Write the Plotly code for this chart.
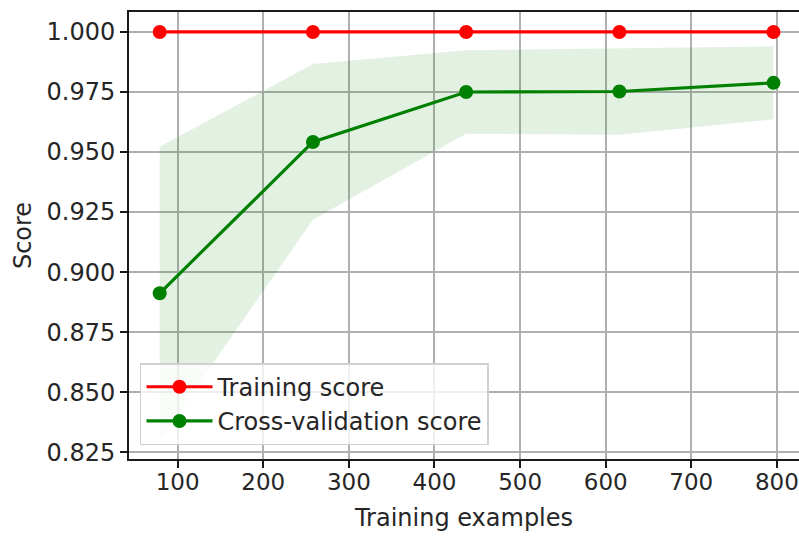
import plotly.graph_objects as go

# Learning-curve data
train_sizes = [79, 258, 437, 616, 796]
train_scores_mean = [1.0, 1.0, 1.0, 1.0, 1.0]
cv_scores_mean = [0.8912, 0.9542, 0.9750, 0.9752, 0.9788]
cv_scores_upper = [0.9522, 0.9866, 0.9924, 0.9932, 0.9940]
cv_scores_lower = [0.8302, 0.9218, 0.9576, 0.9572, 0.9636]

x_ticks = [100, 200, 300, 400, 500, 600, 700, 800]
y_ticks = [0.825, 0.850, 0.875, 0.900, 0.925, 0.950, 0.975, 1.000]

RED = "#ff0000"
GREEN = "#008000"
BAND = "rgba(0,128,0,0.11)"
FONT = "DejaVu Sans"
TXT = "#262626"

fig = go.Figure()

# Shaded +/- one std band around the cross-validation score
fig.add_trace(go.Scatter(x=train_sizes, y=cv_scores_upper, mode="lines",
                         line=dict(width=0, color=BAND), showlegend=False,
                         hoverinfo="skip"))
fig.add_trace(go.Scatter(x=train_sizes, y=cv_scores_lower, mode="lines",
                         line=dict(width=0, color=BAND), fill="tonexty",
                         fillcolor=BAND, showlegend=False, hoverinfo="skip"))

fig.add_trace(go.Scatter(x=train_sizes, y=train_scores_mean, mode="lines+markers",
                         name="Training score",
                         line=dict(color=RED, width=3.2),
                         marker=dict(color=RED, size=14)))
fig.add_trace(go.Scatter(x=train_sizes, y=cv_scores_mean, mode="lines+markers",
                         name="Cross-validation score",
                         line=dict(color=GREEN, width=3.2),
                         marker=dict(color=GREEN, size=14)))

axis_common = dict(
    showgrid=True, gridcolor="#b0b0b0", gridwidth=1.6,
    zeroline=False, showline=True, linecolor="#1a1a1a", linewidth=1.8,
    ticks="outside", ticklen=7, tickwidth=1.8, tickcolor="#1a1a1a",
    ticklabeloverflow="allow",
)

fig.update_xaxes(
    range=[43.15, 825.8], tickvals=x_ticks, ticktext=[str(v) for v in x_ticks],
    mirror=True, ticklabelstandoff=-6,
    tickfont=dict(family=FONT, size=23, color=TXT),
    title=dict(text="Training examples", font=dict(family=FONT, size=24, color=TXT),
               standoff=16),
    **axis_common,
)
fig.update_yaxes(
    range=[0.8222, 1.0083], tickvals=y_ticks, ticktext=[f"{v:.3f}" for v in y_ticks],
    tickfont=dict(family=FONT, size=24, color=TXT),
    title=dict(text="Score", font=dict(family=FONT, size=24, color=TXT),
               standoff=8),
    **axis_common,
)

fig.update_layout(
    width=799, height=536,
    margin=dict(l=129, r=0, t=12, b=77),
    paper_bgcolor="white", plot_bgcolor="white",
    font=dict(family=FONT, size=24, color=TXT),
    legend=dict(x=0.0164, y=0.031, xanchor="left", yanchor="bottom",
                traceorder="normal",
                bgcolor="rgba(255,255,255,0.8)", bordercolor="#d0d0d0",
                borderwidth=1.5, itemwidth=66,
                font=dict(family=FONT, size=24, color=TXT),
                tracegroupgap=0),
    showlegend=True,
)

fig.write_html("out.html")
